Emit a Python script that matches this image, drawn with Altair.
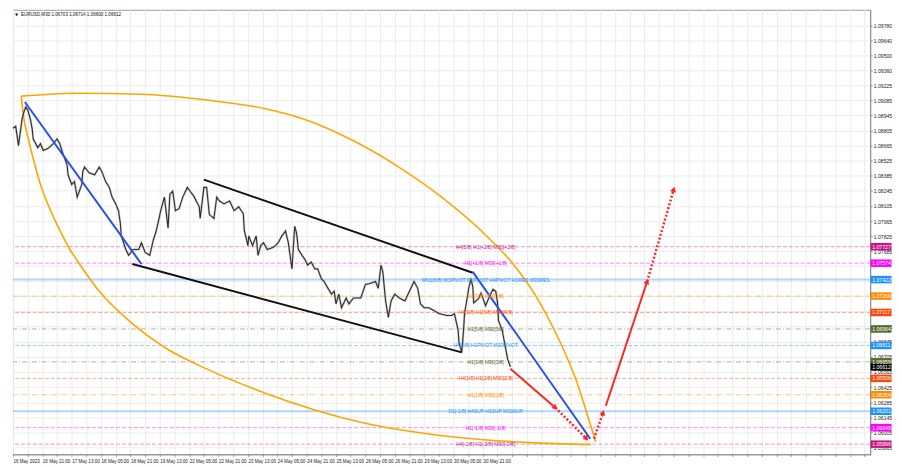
import json
import altair as alt
import pandas as pd

W, H = 864, 448
FONT = "Liberation Sans"

# ---------------- price series (M30 bar index, close) ----------------
bar_idx = [
    0, 3, 6, 10, 12, 14, 16, 19, 21, 22,
    27, 30, 33, 38, 44, 48, 51, 54, 59, 60,
    64, 67, 70, 75, 76, 78, 83, 89, 94, 97,
    101, 105, 108, 112, 115, 117, 118, 123, 126, 131,
    137, 140, 144, 149, 153, 156, 158, 161, 165, 169,
    171, 174, 177, 181, 185, 190, 193, 197, 203, 204,
    208, 211, 214, 219, 222, 225, 230, 236, 241, 246,
    251, 252, 256, 257, 261, 265, 267, 270, 273, 277,
    283, 286, 289, 293, 297, 300, 304, 307, 309, 311,
    315, 318, 321, 325, 329, 332, 336, 339, 342, 347,
    350, 352, 355, 358, 363, 366, 371, 379, 384, 389,
    395, 398, 401, 403, 406, 409, 412, 416, 421, 427,
    432, 437, 441, 444, 448, 453, 459, 464, 473, 478,
    481, 485, 486, 489, 491, 492, 494, 497, 499, 501,
    502, 507, 510, 515, 518, 523, 526, 528, 529, 533,
    535, 537, 539, 542,
]
close = [
    1.08826, 1.08844, 1.08664, 1.08916, 1.08979, 1.09024, 1.08997, 1.08907, 1.08817, 1.08727,
    1.08646, 1.08682, 1.08619, 1.08637, 1.08682, 1.08727, 1.08682, 1.08601, 1.08484, 1.08394,
    1.08304, 1.08331, 1.08187, 1.08304, 1.08421, 1.08466, 1.08412, 1.08394, 1.08466, 1.08421,
    1.08331, 1.08277, 1.08187, 1.08124, 1.08061, 1.07944, 1.07827, 1.07701, 1.07647, 1.07701,
    1.07701, 1.07764, 1.07674, 1.07647, 1.07791, 1.07872, 1.07944, 1.08061, 1.08187, 1.07899,
    1.08214, 1.08241, 1.08061, 1.08079, 1.08187, 1.08277, 1.08241, 1.08196, 1.08097, 1.07989,
    1.08277, 1.08277, 1.08025, 1.07989, 1.08187, 1.08151, 1.08124, 1.08151, 1.08061, 1.08097,
    1.08034, 1.07881, 1.07737, 1.07827, 1.07737, 1.07827, 1.07647, 1.07737, 1.07764, 1.07701,
    1.07719, 1.07737, 1.07764, 1.07827, 1.07872, 1.07764, 1.07521, 1.07917, 1.07854, 1.07701,
    1.07647, 1.07611, 1.07557, 1.07584, 1.07521, 1.07521, 1.07431, 1.07404, 1.07359, 1.07287,
    1.07314, 1.07197, 1.07287, 1.07161, 1.07251, 1.07197, 1.07251, 1.07251, 1.07377, 1.07386,
    1.07404, 1.07341, 1.07557, 1.07494, 1.07224, 1.07071, 1.07224, 1.07287, 1.07251, 1.07224,
    1.07314, 1.07404, 1.07341, 1.07197, 1.07161, 1.07161, 1.07134, 1.07107, 1.07089, 1.07089,
    1.07107, 1.06954, 1.06837, 1.06747, 1.06954, 1.07107, 1.07206, 1.07359, 1.07422, 1.07359,
    1.07206, 1.07242, 1.07296, 1.07179, 1.07242, 1.07332, 1.07314, 1.07206, 1.07044, 1.06954,
    1.06864, 1.06774, 1.06684, 1.06612,
]
current_price = 1.06612
title_text = "EURUSD,M30  1.06703 1.06714 1.06600 1.06612"

# ---------------- Murrey math levels ----------------
level_price = [1.07727, 1.07574, 1.07422, 1.07269, 1.07117, 1.06964, 1.06811,
               1.06659, 1.06506, 1.06354, 1.06201, 1.06049, 1.05896]
level_text = [
    "H4[5/8] H1[+2/8] M30[+2/8]",
    "H1[+1/8] M30[+1/8]",
    "MN1[6/8] W1PIVOT D1PIVOT H4PIVOT H1RES M30RES",
    "H1[7/8] M30[7/8]",
    "H4[3/8] H1[6/8] M30[6/8]",
    "H1[5/8] M30[5/8]",
    "H4[2/8] H1PIVOT M30PIVOT",
    "H1[3/8] M30[3/8]",
    "H4[1/8] H1[2/8] M30[2/8]",
    "H1[1/8] M30[1/8]",
    "D1[-1/8] H4SUP H1SUP M30SUP",
    "H1[-1/8] M30[-1/8]",
    "H4[-1/8] H1[-2/8] M30[-2/8]",
]
level_color = ["#c71585", "#ff00ff", "#1e90ff", "#ff8c00", "#ff4500", "#556b2f", "#1e90ff",
               "#556b2f", "#ff4500", "#ff8c00", "#1e90ff", "#ff00ff", "#c71585"]
level_style = ["dash", "dash", "solid", "dashdot", "dash", "dashdot", "dash",
               "dashdot", "dash", "dashdot", "solid", "dash", "dash"]
LABEL_BAR = 515

# ---------------- drawn objects ----------------
arc_top_bar = [9, 69, 140, 211, 275, 318, 371, 417, 467, 515, 545, 576, 595, 613, 630, 635]
arc_top_price = [1.09123, 1.09150, 1.09141, 1.09087, 1.09006, 1.08907, 1.08709, 1.08484,
                 1.08187, 1.07836, 1.07566, 1.07179, 1.06864, 1.06504, 1.06054, 1.05919]
arc_bot_bar = [9, 12, 16, 22, 30, 41, 51, 62, 69, 94, 126, 169, 211, 275, 379, 478, 563, 630]
arc_bot_price = [1.09123, 1.08907, 1.08754, 1.08547, 1.08304, 1.08061, 1.07881, 1.07701,
                 1.07611, 1.07314, 1.07044, 1.06774, 1.06594, 1.06369, 1.06099, 1.05964,
                 1.05910, 1.05892]

blue_seg = ["b1", "b1", "b2", "b2"]
blue_bar = [13, 140, 501, 629]
blue_price = [1.09069, 1.07566, 1.07494, 1.05946]

black_seg = ["k1", "k1", "k2", "k2"]
black_bar = [208, 501, 130, 489]
black_price = [1.08349, 1.07485, 1.07566, 1.06747]

red_seg = ["r1", "r1", "r2", "r2", "r3", "r3", "r4", "r4", "r5", "r5"]
red_kind = ["solid", "solid", "dot", "dot", "dot", "dot", "solid", "solid", "dot", "dot"]
red_bar = [542, 591, 591, 625, 633, 643, 646, 691, 691, 720]
red_price = [1.06594, 1.06234, 1.06234, 1.05946, 1.05946, 1.06189, 1.06252, 1.07404,
             1.07404, 1.08259]
head_bar = [591, 625, 643, 691, 720]
head_price = [1.06234, 1.05946, 1.06189, 1.07404, 1.08259]
head_angle = [131, 135, 20, 18, 16]

# ---------------- axes ----------------
x_labels = ["16 May 2023", "16 May 21:00", "17 May 13:00", "18 May 05:00", "18 May 21:00",
            "19 May 13:00", "22 May 05:00", "22 May 21:00", "23 May 13:00", "24 May 05:00",
            "24 May 21:00", "25 May 13:00", "26 May 05:00", "26 May 21:00", "29 May 13:00",
            "30 May 05:00", "30 May 21:00"]
x_tick_values = list(range(0, 935, 16))
# price labels on the right scale (those fully hidden under level boxes are left out)
y_ticks = [1.09780, 1.09640, 1.09500, 1.09360, 1.09225, 1.09085, 1.08945, 1.08805,
           1.08665, 1.08525, 1.08385, 1.08245, 1.08105, 1.07965, 1.07825, 1.07685,
           1.06985, 1.06845, 1.06705, 1.06565,
           1.06425, 1.06285, 1.06145, 1.06005, 1.05865]
y_grid = [1.07545, 1.07405, 1.07265, 1.07125]

x_scale = alt.Scale(domain=[0, 934], nice=False, zero=False)
y_scale = alt.Scale(domain=[1.05802, 1.09924], nice=False, zero=False)

label_expr = ("(datum.value % 32 == 0 && datum.value <= 512) ? "
              + json.dumps(x_labels) + "[datum.value / 32] : ''")

x_axis = alt.Axis(values=x_tick_values, labelExpr=label_expr, title=None,
                  labelFontSize=4.6, labelFont=FONT, labelColor="#222222",
                  labelAlign="left", labelPadding=2, labelOverlap=False, labelFlush=False,
                  tickSize=2, tickColor="#888888", domainColor="#8c8c8c",
                  grid=True, gridColor="#ececec", gridWidth=1)
y_axis = alt.Axis(orient="right", values=y_ticks, format=".5f", title=None,
                  labelFontSize=5.2, labelFont=FONT, labelColor="#222222",
                  labelPadding=1, labelOverlap=False, labelBaseline="middle",
                  tickSize=2, tickColor="#888888", domainColor="#8c8c8c",
                  grid=True, gridColor="#ececec", gridWidth=1)


def X():
    return alt.X("bar:Q", scale=x_scale, axis=x_axis)


def Y():
    return alt.Y("price:Q", scale=y_scale, axis=y_axis)


# ---------------- data frames ----------------
price_df = pd.DataFrame({"bar": bar_idx, "price": close})
lev_df = pd.DataFrame({"price": level_price, "text": level_text, "color": level_color,
                       "style": level_style, "bar": [LABEL_BAR] * len(level_price)})
box_df = pd.DataFrame({
    "price": level_price + [current_price],
    "color": level_color + ["#000000"],
    "label": [f"{p:.5f}" for p in level_price + [current_price]],
})
arc_df = pd.concat([
    pd.DataFrame({"arc": "top", "bar": arc_top_bar, "price": arc_top_price}),
    pd.DataFrame({"arc": "bottom", "bar": arc_bot_bar, "price": arc_bot_price}),
])
blue_df = pd.DataFrame({"seg": blue_seg, "bar": blue_bar, "price": blue_price})
black_df = pd.DataFrame({"seg": black_seg, "bar": black_bar, "price": black_price})
red_df = pd.DataFrame({"seg": red_seg, "kind": red_kind, "bar": red_bar, "price": red_price})
head_df = pd.DataFrame({"bar": head_bar, "price": head_price, "angle": head_angle})
title_df = pd.DataFrame({"t": [title_text]})
grid_df = pd.DataFrame({"price": y_grid})

# ---------------- layers ----------------
extra_grid = alt.Chart(grid_df).mark_rule(color="#ececec", strokeWidth=1).encode(y=Y())

lev_base = alt.Chart(lev_df)
lev_solid = lev_base.mark_rule(strokeWidth=2, opacity=0.35).encode(
    y=Y(), color=alt.Color("color:N", scale=None)).transform_filter("datum.style == 'solid'")
lev_dash = lev_base.mark_rule(strokeWidth=1, opacity=0.45, strokeDash=[4, 2]).encode(
    y=Y(), color=alt.Color("color:N", scale=None)).transform_filter("datum.style == 'dash'")
lev_dashdot = lev_base.mark_rule(strokeWidth=1, opacity=0.5, strokeDash=[5, 2, 1, 2]).encode(
    y=Y(), color=alt.Color("color:N", scale=None)).transform_filter("datum.style == 'dashdot'")

arcs = alt.Chart(arc_df).mark_line(color="#ffa500", strokeWidth=1.6, interpolate="monotone").encode(
    x=X(), y=Y(), detail="arc:N")

price_fuzz = alt.Chart(price_df).mark_line(color="#9a9a9a", strokeWidth=2.4, opacity=0.45).encode(
    x=X(), y=Y())
price_line = alt.Chart(price_df).mark_line(color="#2e2e2e", strokeWidth=1.1).encode(
    x=X(), y=Y())

black_lines = alt.Chart(black_df).mark_line(color="#111111", strokeWidth=2).encode(
    x=X(), y=Y(), detail="seg:N")
blue_lines = alt.Chart(blue_df).mark_line(color="#2a4fe8", strokeWidth=2).encode(
    x=X(), y=Y(), detail="seg:N")

red_solid = alt.Chart(red_df).mark_line(color="#ff2424", strokeWidth=2).encode(
    x=X(), y=Y(), detail="seg:N").transform_filter("datum.kind == 'solid'")
red_dot = alt.Chart(red_df).mark_line(color="#ff2424", strokeWidth=2.5, strokeDash=[2, 2]).encode(
    x=X(), y=Y(), detail="seg:N").transform_filter("datum.kind == 'dot'")
heads = alt.Chart(head_df).mark_point(shape="triangle-up", filled=True, size=36,
                                      color="#ff2424", opacity=1).encode(
    x=X(), y=Y(), angle=alt.Angle("angle:Q", scale=None))

lev_text = alt.Chart(lev_df).mark_text(fontSize=5, font=FONT, align="center",
                                       baseline="middle").encode(
    x=X(), y=Y(), text="text:N", color=alt.Color("color:N", scale=None))

boxes = alt.Chart(box_df).mark_point(shape="M-1,-0.36H1V0.36H-1Z", filled=True, size=441,
                                     opacity=1, strokeWidth=0).encode(
    x=alt.value(W + 11), y=Y(), color=alt.Color("color:N", scale=None))
box_text = alt.Chart(box_df).mark_text(fontSize=5.2, font=FONT, color="white", align="left",
                                       baseline="middle").encode(
    x=alt.value(W + 2), y=Y(), text="label:N")

title_mark = alt.Chart(title_df).mark_text(fontSize=4.6, font=FONT, color="#111111",
                                           align="left", baseline="middle").encode(
    x=alt.value(8), y=alt.value(5), text="t:N")
title_tri = alt.Chart(title_df).mark_text(fontSize=4, font="DejaVu Sans", color="#111111",
                                          align="left", baseline="middle", text="\u25bc").encode(
    x=alt.value(2), y=alt.value(5))

chart = alt.layer(
    extra_grid, lev_solid, lev_dash, lev_dashdot, arcs, price_fuzz, price_line, black_lines,
    blue_lines, red_solid, red_dot, heads, lev_text, boxes, box_text, title_mark, title_tri,
).properties(
    width=W, height=H, padding=0, background="white",
).configure_view(
    stroke="#9a9a9a", strokeWidth=1,
)

chart.save("out.html", embed_options={"renderer": "svg", "actions": False})
